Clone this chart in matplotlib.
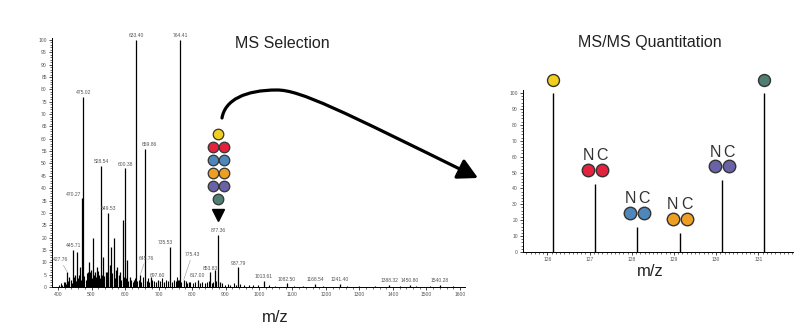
#!/usr/bin/env python3
"""
MS selection -> MS/MS reporter ion quantitation figure.
"""

import matplotlib
matplotlib.use('Agg')
import matplotlib.pyplot as plt
from matplotlib import font_manager as fm
from matplotlib.path import Path
from matplotlib.patches import FancyArrowPatch
from matplotlib.transforms import offset_copy
from matplotlib.ticker import MultipleLocator

# prefer a narrow face (the original uses a condensed grotesque)
installed = {f.name for f in fm.fontManager.ttflist}
if 'Liberation Sans Narrow' in installed:
    FONT = ['Liberation Sans Narrow', 'DejaVu Sans']
    TITLE_SIZE = 13
else:
    FONT = ['Liberation Sans', 'DejaVu Sans']
    TITLE_SIZE = 11.5
plt.rcParams['font.family'] = FONT

# ---- MS1 spectrum (left): labelled / main peaks
ms1_mz = [421.3, 427.76, 434.0, 445.71, 451.5, 456.2, 466.0, 470.27, 475.02,
          488.6, 493.2, 498.0, 505.1, 511.4, 516.3, 522.0, 528.54, 535.2,
          542.0, 549.53, 553.8, 558.3, 567.1, 572.5, 577.4, 585.2, 593.1,
          600.38, 606.2, 615.0, 627.0, 633.40, 645.76, 659.86, 677.0, 697.60,
          735.53, 758.3, 764.41, 775.43, 790.3, 817.00, 853.83, 868.2, 877.36,
          885.0, 937.79, 1013.61, 1082.50, 1168.54, 1241.40, 1388.32, 1450.80,
          1540.28]
ms1_int = [2.0, 6.0, 4.0, 15.0, 5.0, 14.0, 8.0, 36.0, 77.0,
           6.0, 10.0, 7.0, 20.0, 6.0, 8.0, 5.0, 49.0, 12.0,
           6.0, 30.0, 9.0, 16.0, 20.0, 7.0, 8.0, 6.0, 27.0,
           48.0, 11.0, 4.0, 3.0, 100.0, 5.0, 56.0, 4.0, 3.0,
           16.0, 3.0, 100.0, 3.0, 2.0, 3.0, 6.0, 7.0, 21.0,
           2.0, 8.0, 2.5, 1.5, 1.2, 1.2, 1.0, 1.0,
           1.0]
ms1_labels = [427.76, 445.71, 470.27, 475.02, 528.54, 549.53, 600.38, 633.40,
              645.76, 659.86, 697.60, 735.53, 764.41, 775.43, 817.00, 853.83,
              877.36, 937.79, 1013.61, 1082.50, 1168.54, 1241.40, 1388.32,
              1450.80, 1540.28]

# low-level chemical noise (m/z, relative intensity)
ms1_noise = [
    (404, 1.0), (409, 1.5), (413, 0.8), (417, 2.0), (424, 1.2), (431, 2.5),
    (438, 3.0), (441, 1.5), (449, 4.0), (453, 2.5), (459, 3.5), (462, 5.0),
    (468, 3.0), (478, 4.5), (483, 3.0), (486, 5.5), (491, 4.0), (496, 6.0),
    (501, 3.5), (508, 5.0), (513, 4.0), (519, 6.5), (524, 3.5), (531, 5.0),
    (538, 4.5), (545, 6.0), (556, 4.0), (562, 5.5), (569, 3.5), (575, 4.5),
    (581, 5.0), (589, 3.0), (597, 4.0), (603, 3.5), (610, 2.5), (619, 3.0),
    (623, 2.0), (630, 3.5), (637, 2.5), (643, 3.0), (649, 2.0), (653, 4.0),
    (665, 2.5), (669, 3.5), (673, 2.0), (681, 3.0), (686, 2.5), (691, 2.0),
    (704, 2.5), (709, 3.5), (715, 2.0), (721, 3.0), (727, 2.5), (741, 2.0),
    (746, 3.0), (751, 2.5), (755, 4.0), (760, 3.0), (768, 2.0), (782, 2.5),
    (786, 1.5), (795, 2.0), (802, 1.5), (810, 2.0), (823, 1.5), (830, 2.0),
    (839, 1.5), (845, 2.0), (850, 2.5), (859, 1.5), (864, 2.0), (873, 2.5),
    (890, 1.5), (897, 1.0), (906, 1.2), (914, 1.0), (925, 1.5), (931, 1.0),
    (944, 1.2), (956, 0.8), (969, 1.0), (983, 0.8), (998, 0.7), (1030, 0.8),
    (1047, 0.6), (1104, 0.6), (1130, 0.5), (1190, 0.6), (1262, 0.5),
    (1300, 0.4), (1345, 0.6), (1420, 0.5), (1470, 0.4), (1512, 0.5),
    (1580, 0.4),
]

# ---- MS/MS reporter ions (right)
channels = ['126', '127', '128', '129', '130', '131']
reporter_mz = [126.128, 127.128, 128.131, 129.135, 130.138, 131.138]
reporter_int = [100, 43, 16, 12, 45, 100]
channel_pair = [False, True, True, True, True, False]   # N / C isobars
channel_colors = ['#F2CF1D', '#E5223E', '#4F87BA', '#EC9F22', '#6A62A6', '#4F7F72']

W, H = 808, 329
fig = plt.figure(figsize=(W / 100, H / 100), dpi=100)


def px_axes(left, top, right, bottom):
    return fig.add_axes([left / W, 1 - bottom / H, (right - left) / W, (bottom - top) / H])


def style_axes(ax):
    for s in ['top', 'right']:
        ax.spines[s].set_visible(False)
    for s in ['left', 'bottom']:
        ax.spines[s].set_linewidth(0.7)
    ax.tick_params(which='major', length=2.2, width=0.5, labelsize=3.6,
                   labelcolor='#555555', pad=1.5)
    ax.tick_params(which='minor', length=1.2, width=0.4)
    ax.set_facecolor('none')


# Left: MS1 spectrum
ax1 = px_axes(52, 38, 465, 287)
ax1.set_xlim(382, 1615)
ax1.set_ylim(0, 100.8)
style_axes(ax1)
ax1.xaxis.set_major_locator(MultipleLocator(100))
ax1.xaxis.set_minor_locator(MultipleLocator(20))
ax1.yaxis.set_major_locator(MultipleLocator(5))
ax1.yaxis.set_minor_locator(MultipleLocator(1))

nz_mz = [m for m, _ in ms1_noise]
nz_int = [v for _, v in ms1_noise]
ax1.vlines(nz_mz, 0, nz_int, color='black', lw=0.8)
ax1.vlines(ms1_mz, 0, ms1_int, color='black', lw=0.9)

label_offsets = {427.76: (-5, 7), 470.27: (-6, 1), 645.76: (4, 10),
                 775.43: (6, 16), 735.53: (-4, 2), 659.86: (3, 1)}
leaders = {427.76, 645.76, 775.43}
for m in ms1_labels:
    v = ms1_int[ms1_mz.index(m)]
    dx, dy = label_offsets.get(m, (0, 1.2))
    props = dict(arrowstyle='-', lw=0.35, color='#888888', shrinkA=0, shrinkB=0) \
        if m in leaders else None
    ax1.annotate(f"{m:.2f}", xy=(m, v), xytext=(dx, dy), textcoords='offset points',
                 ha='center', va='bottom', fontsize=3.6, color='#555555',
                 arrowprops=props)

# Right: reporter ion region
ax2 = px_axes(523, 90, 793, 252)
ax2.set_xlim(125.42, 131.82)
ax2.set_ylim(0, 101.9)
style_axes(ax2)
ax2.set_xticks(range(126, 132))
ax2.set_xticklabels(channels)
ax2.xaxis.set_minor_locator(MultipleLocator(0.1))
ax2.yaxis.set_major_locator(MultipleLocator(10))
ax2.yaxis.set_minor_locator(MultipleLocator(2))
ax2.vlines(reporter_mz, 0, reporter_int, color='black', lw=1.0)

for m, v, pair, c in zip(reporter_mz, reporter_int, channel_pair, channel_colors):
    if pair:
        for dx, tag in [(-7, 'N'), (7, 'C')]:
            tr = offset_copy(ax2.transData, fig=fig, x=dx, y=14, units='dots')
            ax2.plot([m], [v], 'o', ms=9.0, mfc=c, mec='#333333', mew=1.0,
                     transform=tr, clip_on=False)
            tr = offset_copy(ax2.transData, fig=fig, x=dx, y=28, units='dots')
            ax2.text(m, v, tag, transform=tr, ha='center', va='center',
                     fontsize=TITLE_SIZE, color='#333333')
    else:
        tr = offset_copy(ax2.transData, fig=fig, x=0, y=13, units='dots')
        ax2.plot([m], [v], 'o', ms=8.6, mfc=c, mec='#333333', mew=1.0,
                 transform=tr, clip_on=False)

# Overlay for titles, precursor stack and arrow (pixel coordinates)
deco = fig.add_axes([0, 0, 1, 1])
deco.set_xlim(0, W)
deco.set_ylim(H, 0)
deco.axis('off')

deco.text(282, 43, 'MS Selection', ha='center', va='center',
          fontsize=TITLE_SIZE, color='#222222')
deco.text(650, 43, 'MS/MS Quantitation', ha='center', va='center',
          fontsize=TITLE_SIZE, color='#222222')
deco.text(275, 318, 'm/z', ha='center', va='center', fontsize=TITLE_SIZE + 0.5, color='#222222')
deco.text(650, 272, 'm/z', ha='center', va='center', fontsize=TITLE_SIZE + 0.5, color='#222222')

for i, (c, pair) in enumerate(zip(channel_colors, channel_pair)):
    y = 134 + 13 * i
    xs = [212.5, 223.5] if pair else [218]
    deco.plot(xs, [y] * len(xs), 'o', ms=7.6, mfc=c, mec='#333333', mew=0.9)
deco.plot([218], [215], 'v', ms=8.5, color='black')

verts = [(222, 118), (225, 100), (245, 90), (277, 90),
         (300, 90), (340, 110), (478, 178)]
codes = [Path.MOVETO] + [Path.CURVE4] * 6
arrow = FancyArrowPatch(path=Path(verts, codes),
                        arrowstyle='-|>,head_length=0.6,head_width=0.32',
                        mutation_scale=20, lw=2.3, color='black')
deco.add_patch(arrow)

fig.savefig('out.png', dpi=100, facecolor='white')
